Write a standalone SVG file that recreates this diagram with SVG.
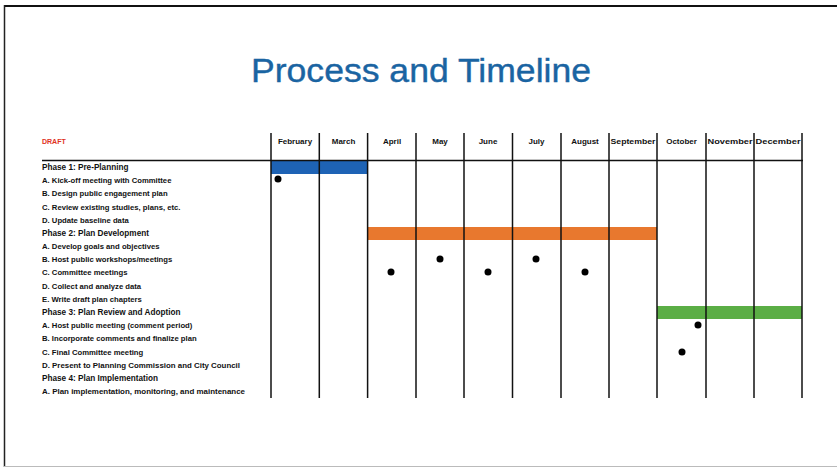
<svg xmlns="http://www.w3.org/2000/svg" width="837" height="469" viewBox="0 0 837 469">
<style>
.lbl{font-family:"Liberation Sans",Arial,sans-serif;font-size:7.7px;fill:#111;font-weight:bold}
.ph{font-family:"Liberation Sans",Arial,sans-serif;font-size:8.2px;fill:#111;font-weight:bold}
.mon{font-family:"Liberation Sans",Arial,sans-serif;font-size:8px;fill:#111;font-weight:bold;text-anchor:middle}
.grid{stroke:#111;stroke-width:1.5}
.dot{fill:#000}
</style>
<rect x="0" y="0" width="837" height="469" fill="#fff"/>
<g id="frame">
<line x1="4" y1="6" x2="837" y2="6" stroke="#111" stroke-width="2.2"/>
<line x1="4.5" y1="5" x2="4.5" y2="467" stroke="#222" stroke-width="1.5"/>
<line x1="4" y1="466.5" x2="837" y2="466.5" stroke="#bbb" stroke-width="1"/>
</g>
<g id="title">
<text x="421" y="82" font-family="Liberation Sans,Arial,sans-serif" font-size="34" fill="#1a64a2" stroke="#1a64a2" stroke-width="0.4" text-anchor="middle" textLength="340" lengthAdjust="spacingAndGlyphs">Process and Timeline</text>
</g>
<g id="bars">
<rect x="271" y="161" width="96" height="13" fill="#1e63b5"/>
<rect x="367" y="227" width="290" height="13" fill="#e8782e"/>
<rect x="657" y="306" width="145" height="13" fill="#5bae45"/>
</g>
<g id="grid">
<line class="grid" x1="42" y1="160.5" x2="803" y2="160.5"/>
<line class="grid" x1="271" y1="133" x2="271" y2="398"/>
<line class="grid" x1="319.3" y1="133" x2="319.3" y2="398"/>
<line class="grid" x1="367.6" y1="133" x2="367.6" y2="398"/>
<line class="grid" x1="416" y1="133" x2="416" y2="398"/>
<line class="grid" x1="464" y1="133" x2="464" y2="398"/>
<line class="grid" x1="512.5" y1="133" x2="512.5" y2="398"/>
<line class="grid" x1="561" y1="133" x2="561" y2="398"/>
<line class="grid" x1="609" y1="133" x2="609" y2="398"/>
<line class="grid" x1="657" y1="133" x2="657" y2="398"/>
<line class="grid" x1="706" y1="133" x2="706" y2="398"/>
<line class="grid" x1="754" y1="133" x2="754" y2="398"/>
<line class="grid" x1="802" y1="133" x2="802" y2="398"/>
</g>
<g id="months">
<text class="mon" x="295" y="144">February</text>
<text class="mon" x="343.5" y="144">March</text>
<text class="mon" x="392" y="144">April</text>
<text class="mon" x="440" y="144">May</text>
<text class="mon" x="488" y="144">June</text>
<text class="mon" x="536.5" y="144">July</text>
<text class="mon" x="585" y="144">August</text>
<text class="mon" x="633" y="144" textLength="45" lengthAdjust="spacingAndGlyphs">September</text>
<text class="mon" x="681.5" y="144">October</text>
<text class="mon" x="730" y="144" textLength="45" lengthAdjust="spacingAndGlyphs">November</text>
<text class="mon" x="778" y="144" textLength="45" lengthAdjust="spacingAndGlyphs">December</text>
</g>
<g id="labels">
<text x="42" y="144" font-family="Liberation Sans,Arial,sans-serif" font-size="7" font-weight="bold" fill="#e0321e">DRAFT</text>
<text class="ph" x="42" y="170">Phase 1: Pre-Planning</text>
<text class="lbl" x="42" y="183.2">A. Kick-off meeting with Committee</text>
<text class="lbl" x="42" y="196.4">B. Design public engagement plan</text>
<text class="lbl" x="42" y="209.5">C. Review existing studies, plans, etc.</text>
<text class="lbl" x="42" y="222.7">D. Update baseline data</text>
<text class="ph" x="42" y="235.9">Phase 2: Plan Development</text>
<text class="lbl" x="42" y="249.1">A. Develop goals and objectives</text>
<text class="lbl" x="42" y="262.3">B. Host public workshops/meetings</text>
<text class="lbl" x="42" y="275.4">C. Committee meetings</text>
<text class="lbl" x="42" y="288.6">D. Collect and analyze data</text>
<text class="lbl" x="42" y="301.8">E. Write draft plan chapters</text>
<text class="ph" x="42" y="315">Phase 3: Plan Review and Adoption</text>
<text class="lbl" x="42" y="328.2">A. Host public meeting (comment period)</text>
<text class="lbl" x="42" y="341.3">B. Incorporate comments and finalize plan</text>
<text class="lbl" x="42" y="354.5">C. Final Committee meeting</text>
<text class="lbl" x="42" y="367.7" textLength="198" lengthAdjust="spacingAndGlyphs">D. Present to Planning Commission and City Council</text>
<text class="ph" x="42" y="380.9">Phase 4: Plan Implementation</text>
<text class="lbl" x="42" y="394.1" textLength="203" lengthAdjust="spacingAndGlyphs">A. Plan implementation, monitoring, and maintenance</text>
</g>
<g id="dots">
<circle class="dot" cx="278" cy="179" r="3.5"/>
<circle class="dot" cx="391" cy="272" r="3.5"/>
<circle class="dot" cx="440" cy="259" r="3.5"/>
<circle class="dot" cx="488" cy="272" r="3.5"/>
<circle class="dot" cx="536" cy="259" r="3.5"/>
<circle class="dot" cx="585" cy="272" r="3.5"/>
<circle class="dot" cx="698" cy="325" r="3.5"/>
<circle class="dot" cx="682" cy="352" r="3.5"/>
</g>
</svg>
